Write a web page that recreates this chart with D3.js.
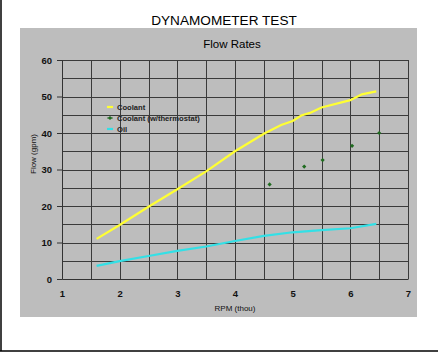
<!DOCTYPE html>
<html>
<head>
<meta charset="utf-8">
<script src="https://cdn.jsdelivr.net/npm/d3@7"></script>
<style>
  body { margin: 0; background: #fff; }
  svg { display: block; font-family: Arial, "Liberation Sans", sans-serif; }
</style>
</head>
<body>
<svg id="chart" width="438" height="353"></svg>
<script>
// values
const coolantRpm  = [1.6, 2.0, 2.5, 3.0, 3.5, 4.0, 4.5, 4.8, 5.0, 5.15, 5.3, 5.5, 6.0, 6.2, 6.45];
const coolantFlow = [11.0, 14.8, 19.8, 24.6, 29.5, 35.0, 39.8, 42.2, 43.3, 44.8, 45.5, 47.0, 49.0, 50.6, 51.4];
const thermoRpm   = [4.6, 5.2, 5.52, 6.03, 6.5];
const thermoFlow  = [25.9, 30.8, 32.6, 36.5, 40.0];
const oilRpm      = [1.6, 2.0, 2.5, 3.0, 3.5, 4.0, 4.5, 5.0, 5.5, 6.0, 6.45];
const oilFlow     = [3.6, 4.9, 6.3, 7.7, 8.9, 10.4, 11.8, 12.8, 13.4, 13.9, 15.1];
const xTicks = [1, 2, 3, 4, 5, 6, 7];
const yTicks = [0, 10, 20, 30, 40, 50, 60];
const legendItems = [
  { label: 'Coolant', color: '#ffff33', kind: 'line' },
  { label: 'Coolant (w/thermostat)', color: '#1f6b1f', kind: 'marker' },
  { label: 'Oil', color: '#33e0e6', kind: 'line' }
];

const svg = d3.select('#chart');

// page frame: left and bottom rules
svg.append('line').attr('x1', 1).attr('x2', 1).attr('y1', 0).attr('y2', 351)
  .attr('stroke', '#000').attr('stroke-width', 1.5);
svg.append('line').attr('x1', 0).attr('x2', 438).attr('y1', 351).attr('y2', 351)
  .attr('stroke', '#000').attr('stroke-width', 1.5);

svg.append('text').attr('x', 224).attr('y', 25).attr('text-anchor', 'middle')
  .attr('font-size', 13.6).attr('fill', '#000').text('DYNAMOMETER TEST');

// gray chart panel
svg.append('rect').attr('x', 20).attr('y', 28).attr('width', 397).attr('height', 289)
  .attr('fill', '#bdbdbd');

svg.append('text').attr('x', 232).attr('y', 48).attr('text-anchor', 'middle')
  .attr('font-size', 11.5).attr('fill', '#000').text('Flow Rates');

const x = d3.scaleLinear().domain([1, 7]).range([62, 408]);
const y = d3.scaleLinear().domain([0, 60]).range([279, 60]);

// grid
const grid = svg.append('g').attr('stroke', '#3a3a3a').attr('stroke-width', 1);
grid.selectAll('.vx').data(d3.range(1.5, 7.01, 0.5)).join('line')
  .attr('x1', d => Math.round(x(d)) + 0.5).attr('x2', d => Math.round(x(d)) + 0.5)
  .attr('y1', y(60)).attr('y2', y(0));
grid.selectAll('.hy').data(d3.range(5, 60.01, 5)).join('line')
  .attr('x1', x(1)).attr('x2', x(7))
  .attr('y1', d => Math.round(y(d)) + 0.5).attr('y2', d => Math.round(y(d)) + 0.5);

// axes
const yAxis = svg.append('g').attr('transform', `translate(${x(1)},0)`)
  .call(d3.axisLeft(y).tickValues(yTicks).tickSize(5).tickPadding(5));
const xAxis = svg.append('g').attr('transform', `translate(0,${y(0)})`)
  .call(d3.axisBottom(x).tickValues(xTicks).tickFormat(d3.format('d')).tickSize(0).tickPadding(11));
[xAxis, yAxis].forEach(a => {
  a.select('.domain').attr('stroke', '#333');
  a.selectAll('.tick line').attr('stroke', '#333');
  a.selectAll('text').attr('font-size', 9.5).attr('font-weight', 'bold')
    .attr('fill', '#111').attr('font-family', 'Arial, "Liberation Sans", sans-serif');
});

svg.append('text').attr('x', 235).attr('y', 311).attr('text-anchor', 'middle')
  .attr('font-size', 8).attr('fill', '#111').text('RPM (thou)');
svg.append('text').attr('transform', 'translate(36,154) rotate(-90)')
  .attr('text-anchor', 'middle').attr('font-size', 8).attr('fill', '#111').text('Flow (gpm)');

// series
const line = d3.line().x(d => x(d[0])).y(d => y(d[1]));
svg.append('path').datum(d3.zip(coolantRpm, coolantFlow)).attr('d', line)
  .attr('fill', 'none').attr('stroke', legendItems[0].color).attr('stroke-width', 2.2);
svg.append('path').datum(d3.zip(oilRpm, oilFlow)).attr('d', line)
  .attr('fill', 'none').attr('stroke', legendItems[2].color).attr('stroke-width', 2.2);

const marker = d3.symbol().type(d3.symbolSquare).size(9);
svg.selectAll('.thermo').data(d3.zip(thermoRpm, thermoFlow)).join('path')
  .attr('transform', d => `translate(${x(d[0])},${y(d[1])}) rotate(45)`)
  .attr('d', marker).attr('fill', legendItems[1].color);

// legend
const leg = svg.append('g').attr('transform', 'translate(107,107)');
legendItems.forEach((it, i) => {
  const g = leg.append('g').attr('transform', `translate(0,${i * 11})`);
  if (it.kind === 'line') {
    g.append('line').attr('x1', 0).attr('x2', 6).attr('y1', 0).attr('y2', 0)
      .attr('stroke', it.color).attr('stroke-width', 2.2);
  } else {
    g.append('line').attr('x1', 0).attr('x2', 6).attr('y1', 0).attr('y2', 0)
      .attr('stroke', it.color).attr('stroke-width', 0.8);
    g.append('path').attr('transform', 'translate(3,0) rotate(45)').attr('d', marker).attr('fill', it.color);
  }
  g.append('text').attr('x', 10).attr('y', 3).attr('font-size', 7.6)
    .attr('font-weight', 'bold').attr('fill', '#222').text(it.label);
});
</script>
</body>
</html>
